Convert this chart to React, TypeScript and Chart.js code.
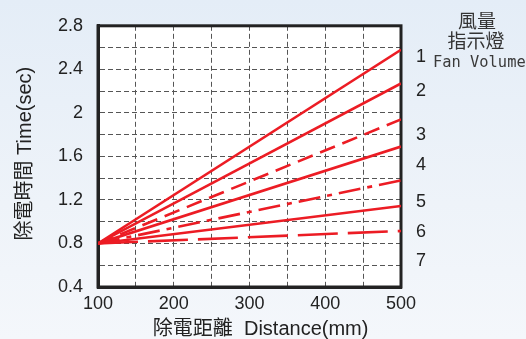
import React, { useEffect, useRef } from "react";
import { Chart, registerables } from "chart.js";

Chart.register(...registerables);

// ---- data ----
const distances = [100, 500];
const fan1 = [0.8, 2.58];
const fan2 = [0.8, 2.27];
const fan3 = [0.8, 1.94];
const fan4 = [0.8, 1.69];
const fan5 = [0.8, 1.38];
const fan6 = [0.8, 1.145];
const fan7 = [0.8, 0.915];
const fanLabels = ["1", "2", "3", "4", "5", "6", "7"];
const fanLabelValues = [2.515, 2.197, 1.8, 1.517, 1.182, 0.908, 0.643];
const legendTitle = ["風量", "指示燈"];
const legendSub = "Fan Volume";
const xTitle = "除電距離  Distance(mm)";
const yTitle = "除電時間 Time(sec)";

const RED = "#ec1c24";
const LATIN = "'Liberation Sans', Arial, 'Noto Sans CJK TC', sans-serif";

const series = [
  { data: fan1, dash: [] as number[] },
  { data: fan2, dash: [] as number[] },
  { data: fan3, dash: [16, 8] },
  { data: fan4, dash: [] as number[] },
  { data: fan5, dash: [22, 7, 5, 7] },
  { data: fan6, dash: [] as number[] },
  { data: fan7, dash: [40, 10] },
];

const decorPlugin = {
  id: "decor",
  beforeDraw(chart: any) {
    const { ctx, chartArea } = chart;
    ctx.save();
    ctx.fillStyle = "#ffffff";
    ctx.fillRect(chartArea.left, chartArea.top, chartArea.right - chartArea.left, chartArea.bottom - chartArea.top);
    ctx.restore();
  },
  beforeDatasetsDraw(chart: any) {
    const { ctx, chartArea } = chart;
    ctx.save();
    ctx.strokeStyle = "#222";
    ctx.lineWidth = 3;
    ctx.strokeRect(chartArea.left, chartArea.top, chartArea.right - chartArea.left, chartArea.bottom - chartArea.top);
    ctx.restore();
  },
  afterDraw(chart: any) {
    const { ctx, chartArea } = chart;
    const yScale = chart.scales.y;
    ctx.save();
    ctx.fillStyle = "#222";
    ctx.font = "18px " + LATIN;
    ctx.textAlign = "center";
    ctx.textBaseline = "middle";
    fanLabels.forEach((t, i) => {
      ctx.fillText(t, chartArea.right + 20, yScale.getPixelForValue(fanLabelValues[i]));
    });
    ctx.font = "19px 'Noto Sans CJK TC', sans-serif";
    ctx.fillStyle = "#333";
    ctx.fillText(legendTitle[0], chartArea.right + 76, 21);
    ctx.fillText(legendTitle[1], chartArea.right + 75, 41);
    ctx.font = "15.4px 'DejaVu Sans Mono', monospace";
    ctx.textAlign = "left";
    ctx.fillStyle = "#3a3a3a";
    ctx.fillText(legendSub, chartArea.right + 32, 63);
    ctx.restore();
  },
};

export default function App() {
  const ref = useRef<HTMLCanvasElement>(null);
  useEffect(() => {
    if (!ref.current) return;
    const chart = new Chart(ref.current, {
      type: "line",
      data: {
        datasets: series.map((s, i) => ({
          label: fanLabels[i],
          data: distances.map((x, j) => ({ x, y: s.data[j] })),
          borderColor: RED,
          borderWidth: 2.6,
          borderDash: s.dash,
          pointRadius: 0,
          fill: false,
          tension: 0,
        })),
      },
      options: {
        animation: false,
        responsive: true,
        maintainAspectRatio: false,
        layout: { padding: { top: 15, right: 125, left: 0, bottom: 0 } },
        plugins: { legend: { display: false }, tooltip: { enabled: false } },
        scales: {
          x: {
            type: "linear",
            min: 100,
            max: 500,
            afterFit: (s: any) => { s.height = 52; },
            ticks: {
              stepSize: 50,
              autoSkip: false,
              maxRotation: 0,
              padding: 6,
              color: "#222",
              font: { family: LATIN, size: 18 },
              callback: (v: any) => (Math.round(v) % 100 === 0 ? String(Math.round(v)) : ""),
            },
            grid: { color: "#555", lineWidth: 1, drawTicks: false },
            border: { display: true, color: "#222", width: 3, dash: [5, 3] },
            title: {
              display: true,
              text: "    " + xTitle,
              color: "#222",
              font: { family: LATIN, size: 20, lineHeight: 1 },
              padding: { top: 0, bottom: 0 },
            },
          },
          y: {
            min: 0.4,
            max: 2.8,
            afterFit: (s: any) => { s.width = 98; },
            ticks: {
              stepSize: 0.2,
              autoSkip: false,
              padding: 15,
              color: "#222",
              font: { family: LATIN, size: 18 },
              callback: (v: any) => {
                const r = Math.round(v * 10);
                return r % 4 === 0 ? String(r / 10) : "";
              },
            },
            grid: { color: "#555", lineWidth: 1, drawTicks: false },
            border: { display: true, color: "#222", width: 3, dash: [5, 3] },
            title: {
              display: true,
              text: " " + yTitle,
              color: "#222",
              font: { family: LATIN, size: 20, lineHeight: 1 },
              padding: { top: 15, bottom: 0 },
            },
          },
        },
      },
      plugins: [decorPlugin],
    });
    return () => chart.destroy();
  }, []);

  return (
    <div
      style={{
        position: "fixed",
        left: 0,
        top: 0,
        width: 526,
        height: 339,
        background: "linear-gradient(to bottom, #e4edf7 0%, #eef3f9 60%, #f4f7fb 100%)",
      }}
    >
      <canvas ref={ref} />
    </div>
  );
}
